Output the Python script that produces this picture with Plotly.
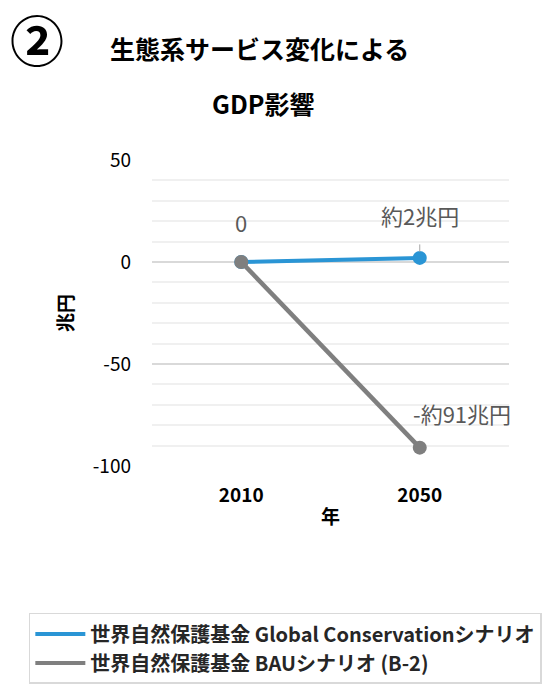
import plotly.graph_objects as go

years = ["2010", "2050"]
global_cons = [0, 2]
bau = [0, -91]
label_global = ["", "約2兆円"]
label_bau = ["0", "-約91兆円"]
names = ["世界自然保護基金 Global Conservationシナリオ", "世界自然保護基金 BAUシナリオ (B-2)"]
y_ticks = [50, 0, -50, -100]
y_ticktext = ["50", "0", "-50", "-100"]

BLUE = "#2a95d5"
GRAY = "#7f7f7f"
LABEL = "#595959"
FONT = "Noto Sans CJK JP"

fig = go.Figure()
fig.add_trace(go.Scatter(x=years, y=global_cons, mode="lines+markers",
                         line=dict(color=BLUE, width=4), marker=dict(size=14, color=BLUE),
                         showlegend=False))
fig.add_trace(go.Scatter(x=years, y=bau, mode="lines+markers",
                         line=dict(color=GRAY, width=4.5), marker=dict(size=14, color=GRAY),
                         showlegend=False))
# legend entries (lines only)
fig.add_trace(go.Scatter(x=[None], y=[None], mode="lines", name="<b>" + names[0] + "</b>",
                         line=dict(color=BLUE, width=4)))
fig.add_trace(go.Scatter(x=[None], y=[None], mode="lines", name="<b>" + names[1] + "</b>",
                         line=dict(color=GRAY, width=4)))

# data labels (category axis: index of the category)
i0, i1 = years.index("2010"), years.index("2050")
fig.add_annotation(x=i0, y=bau[i0], text=label_bau[i0], showarrow=False,
                   yshift=40, font=dict(size=22, color=LABEL, family=FONT))
fig.add_annotation(x=i1, y=global_cons[i1], text=label_global[i1], showarrow=True,
                   ax=0, ay=-43, arrowhead=0, arrowwidth=1, arrowcolor="#a6a6a6",
                   standoff=6, startstandoff=12,
                   font=dict(size=22, color=LABEL, family=FONT))
fig.add_annotation(x=i1, y=bau[i1], text=label_bau[i1], showarrow=False,
                   xshift=42, yshift=35, font=dict(size=22, color=LABEL, family=FONT))

# titles
fig.add_annotation(xref="paper", yref="paper", x=-0.322, y=1.0, yanchor="middle",
                   xanchor="center", yshift=122, text="<b>②</b>", showarrow=False,
                   font=dict(size=54, color="black", family=FONT))
fig.add_annotation(xref="paper", yref="paper", x=0.30, y=1.0, yanchor="middle",
                   xanchor="center", yshift=112, text="<b>生態系サービス変化による</b>",
                   showarrow=False, font=dict(size=25, color="black", family=FONT))
fig.add_annotation(xref="paper", yref="paper", x=0.31, y=1.0, yanchor="middle",
                   xanchor="center", yshift=57, text="<b>GDP影響</b>", showarrow=False,
                   font=dict(size=25, color="black", family=FONT))

fig.update_layout(
    width=542, height=690,
    margin=dict(l=152, r=33, t=160, b=224, autoexpand=False),
    paper_bgcolor="white", plot_bgcolor="white",
    font=dict(family=FONT, color="black"),
    legend=dict(x=-0.345, y=-0.48,
                xanchor="left", yanchor="top",
                bordercolor="#d9d9d9", borderwidth=1.5,
                font=dict(size=20, color="#262626", family=FONT),
                itemwidth=50, tracegroupgap=0),
    xaxis=dict(type="category", range=[-0.5, 1.5], showgrid=False, zeroline=False,
               showline=False, ticks="",
               tickfont=dict(size=19, color="black", family=FONT),
               ticklabelstandoff=16,
               ticktext=["<b>2010</b>", "<b>2050</b>"], tickvals=years,
               title=dict(text="<b>年</b>", font=dict(size=19, family=FONT), standoff=4)),
    yaxis=dict(range=[-100, 50], tickvals=y_ticks, ticktext=y_ticktext,
               showgrid=True, gridcolor="#d9d9d9",
               gridwidth=1.5, zeroline=False, showline=False, ticks="",
               tickfont=dict(size=19, color="black", family=FONT),
               ticklabelstandoff=20,
               minor=dict(dtick=10, showgrid=True, gridcolor="#f0f0f0", gridwidth=1.5),
               title=dict(text="<b>兆円</b>", font=dict(size=19, family=FONT), standoff=14)),
)

fig.write_html("out.html")
